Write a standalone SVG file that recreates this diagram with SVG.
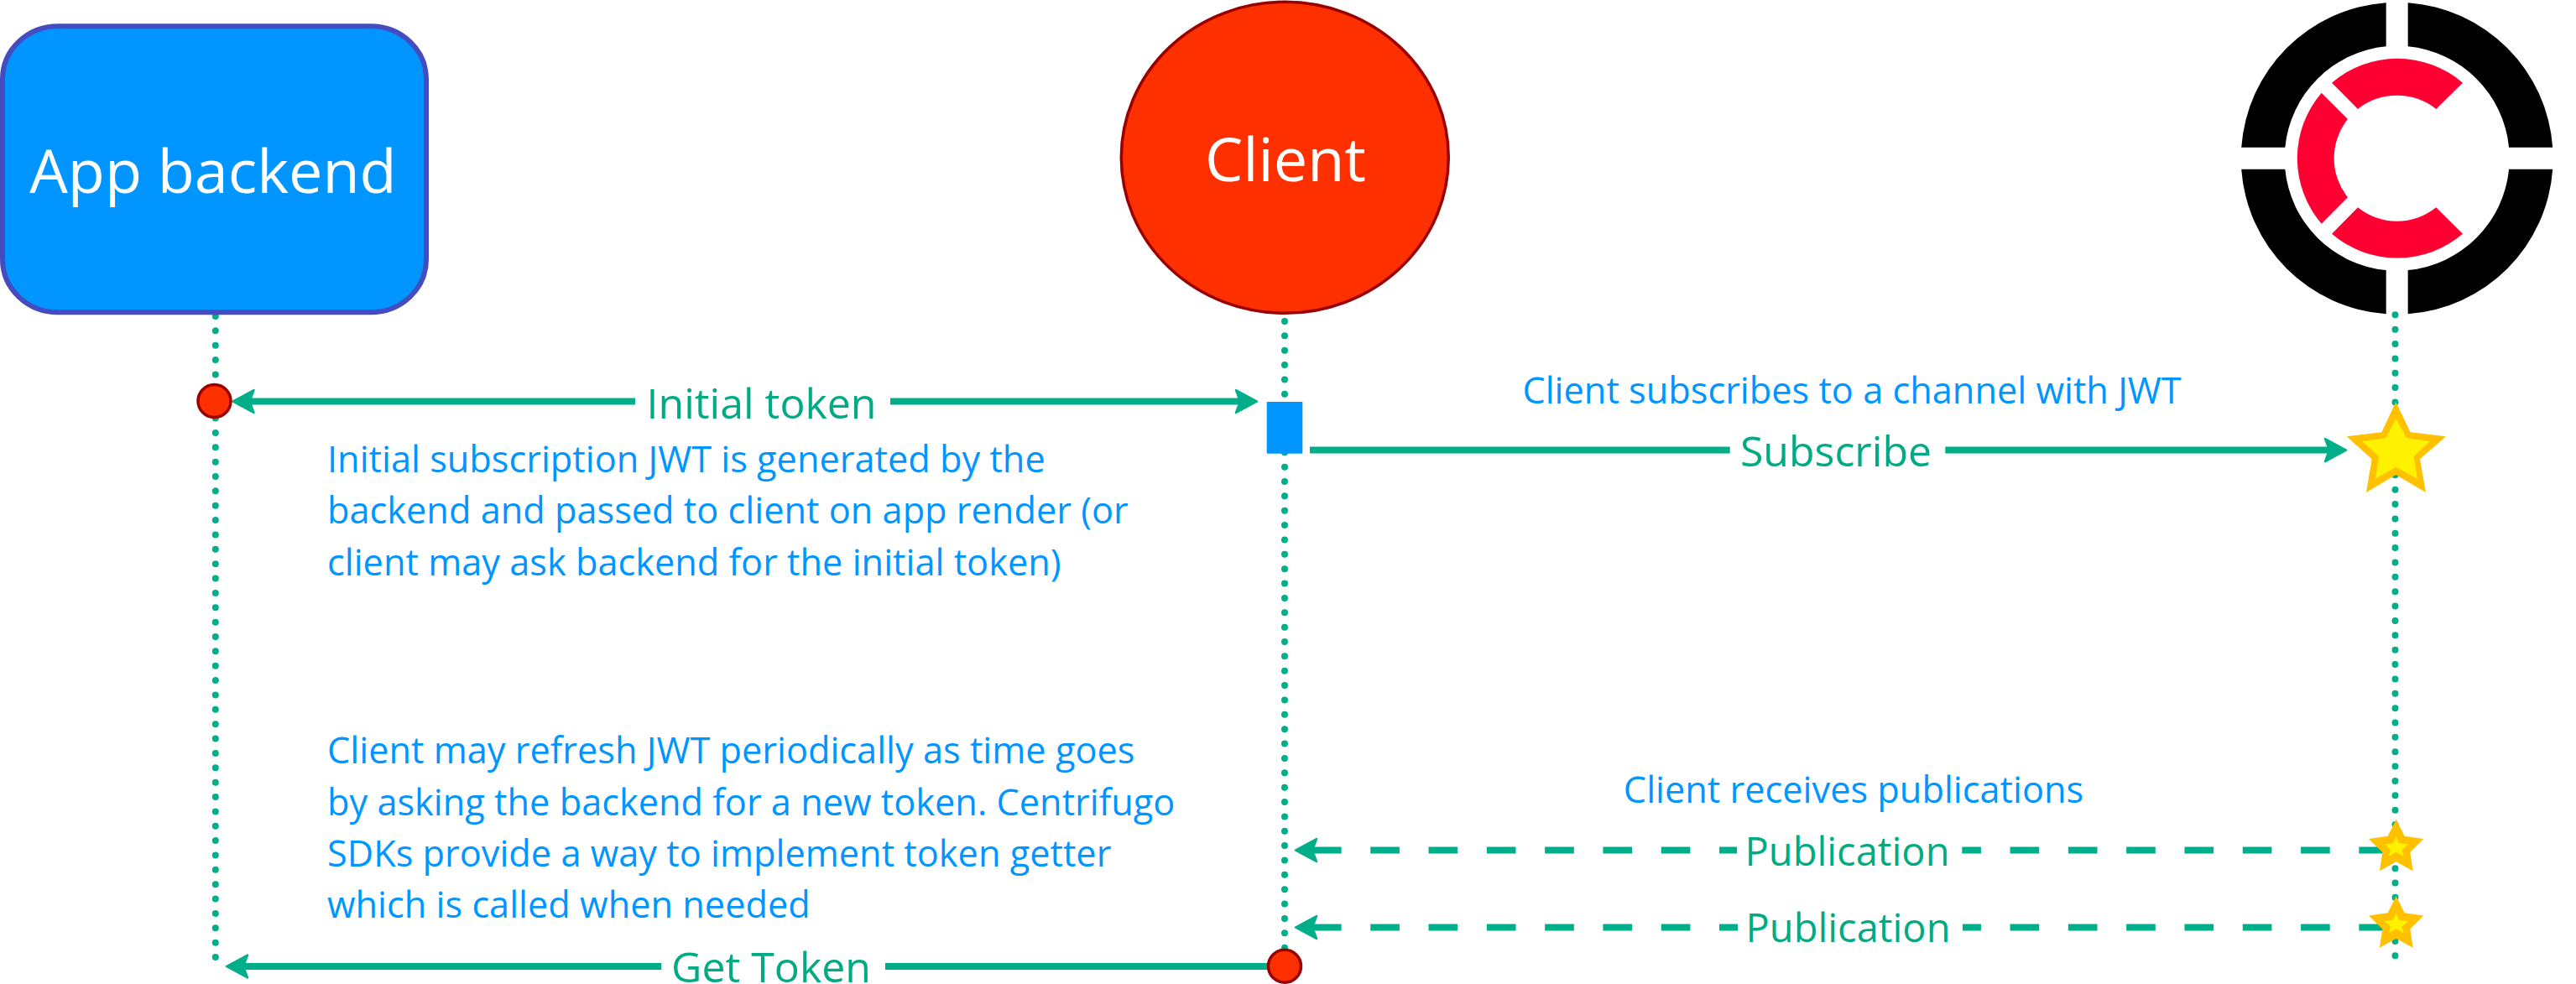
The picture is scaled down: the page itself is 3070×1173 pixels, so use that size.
<svg xmlns="http://www.w3.org/2000/svg" xmlns:xlink="http://www.w3.org/1999/xlink" width="3070" height="1173" viewBox="0 0 3070 1173">
<style>
text{font-family:"Open Sans","Noto Sans","Liberation Sans",sans-serif}
.life{fill:none;stroke:#00af89;stroke-width:8;stroke-linecap:round;stroke-dasharray:0 17.364}
.flow{fill:none;stroke:#00af89;stroke-width:8;marker-end:url(#head)}
.dash{stroke-dasharray:34.65 34.65}
.gap{fill:#fff}
.lab{fill:#00ab84;font-size:50px;text-anchor:middle}
.pub{font-size:47px}
.note{fill:#0095ff;font-size:43.3px}
.mid{text-anchor:middle}
.title{fill:#fff;font-size:72px;text-anchor:middle}
.dot{fill:#ff3000;stroke:#990000;stroke-width:3.5}
.k{fill:#000}.r{fill:#ff0033}
</style>
<defs>
<marker id="head" markerUnits="userSpaceOnUse" markerWidth="44" markerHeight="44" refX="24" refY="22" orient="auto-start-reverse" overflow="visible">
<path d="M33 22L8 8.5L13 22L8 35.500Z" fill="#00af89" stroke="#00af89" stroke-width="2.500" stroke-linejoin="round"/>
</marker>
<g id="small-star">
<polygon points="467,80 497,140 565,150 517,198 527,265 467,232 408,265 418,198 369,150 437,140" fill="#ffc000"/>
<polygon points="467,140 477,165 510,170 487,190 495,213 467,197 440,213 447,190 427,170 457,165" fill="#fff200"/>
</g>
</defs>
<rect width="3070" height="1173" fill="#fff"/>
<g id="connectors">
<path class="life" d="M256.800 377V1142"/>
<path class="life" d="M1531 383V1131"/>
<path class="life" d="M2854.500 375.300V1141"/>
<path class="flow" d="M286.500 478.500H1489" style="marker-start:url(#head)"/>
<path class="flow" d="M1561 536.600H2787"/>
<path class="flow dash" d="M2846 1013.500H1553"/>
<path class="flow dash" d="M2846 1105.500H1553"/>
<path class="flow" d="M1512 1152H279"/>
</g>
<g id="edge-labels">
<rect class="gap" x="757" y="440" width="304" height="75"/>
<text class="lab" x="907.500" y="499">Initial token</text>
<rect class="gap" x="2061.700" y="500" width="256.600" height="75"/>
<text class="lab" x="2188" y="556">Subscribe</text>
<rect class="gap" x="2070" y="980" width="268.300" height="70"/>
<text class="lab pub" x="2201.500" y="1031.700">Publication</text>
<rect class="gap" x="2071" y="1072" width="268" height="70"/>
<text class="lab pub" x="2202.500" y="1123.300">Publication</text>
<rect class="gap" x="788.300" y="1120" width="266.700" height="53"/>
<text class="lab" x="919" y="1171">Get Token</text>
</g>
<g id="app-backend">
<rect x="3" y="31.300" width="505" height="341" rx="66" ry="63" fill="#0095ff" stroke="#444cbf" stroke-width="6"/>
<text class="title" x="254" y="230">App backend</text>
</g>
<g id="client">
<ellipse cx="1531.300" cy="187.800" rx="195" ry="185.500" fill="#ff3000" stroke="#990000" stroke-width="3.500"/>
<text class="title" x="1532" y="216">Client</text>
</g>
<g id="centrifugo-logo">
<path class="k" d="M2843.700 3.200A186 186 0 0 0 2671.200 175.700L2723.300 175.700A134 134 0 0 1 2843.700 55.300Z"/>
<path class="k" d="M2869.700 3.200A186 186 0 0 1 3042.200 175.700L2990.100 175.700A134 134 0 0 0 2869.700 55.300Z"/>
<path class="k" d="M2843.700 374.200A186 186 0 0 1 2671.200 201.700L2723.300 201.700A134 134 0 0 0 2843.700 322.100Z"/>
<path class="k" d="M2869.700 374.200A186 186 0 0 0 3042.200 201.700L2990.100 201.700A134 134 0 0 1 2869.700 322.100Z"/>
<path class="r" d="M2779 98.700A119.700 119.700 0 0 1 2935 98.700L2903.300 130A74.700 74.700 0 0 0 2810 130Z"/>
<path class="r" d="M2766.700 110.700A119.700 119.700 0 0 0 2766.700 266.700L2798 235.300A74.700 74.700 0 0 1 2798 142Z"/>
<path class="r" d="M2779 278.700A119.700 119.700 0 0 0 2935 278.700L2903.300 247.300A74.700 74.700 0 0 1 2810 247.300Z"/>
</g>
<g id="backend-dot"><circle class="dot" cx="255.500" cy="478" r="19.500"/></g>
<g id="client-block"><rect x="1509.700" y="479" width="42.600" height="61.700" fill="#0095ff"/></g>
<g id="client-dot"><circle class="dot" cx="1531" cy="1151.700" r="19.500"/></g>
<g id="subscribe-star" transform="translate(2720 440) scale(.33333)">
<polygon points="406,118 458,226 585,241 492,322 513,441 406,378 300,441 320,322 230,241 355,226" fill="#ffc000"/>
<polygon points="406,177 445,247 528,258 470,312 483,392 406,350 333,392 345,312 285,258 370,247" fill="#fff200"/>
</g>
<g id="publication-star-1" transform="translate(2700 950) scale(.33333)"><use href="#small-star"/></g>
<g id="publication-star-2" transform="translate(2700 1041.500) scale(.33333)"><use href="#small-star"/></g>
<g id="notes">
<text class="note mid" x="2207" y="481">Client subscribes to a channel with JWT</text>
<text class="note mid" x="2209" y="956.700">Client receives publications</text>
<text class="note" x="390" y="562.700">Initial subscription JWT is generated by the</text>
<text class="note" x="390" y="624.300">backend and passed to client on app render (or</text>
<text class="note" x="390" y="686">client may ask backend for the initial token)</text>
<text class="note" x="390" y="910">Client may refresh JWT periodically as time goes</text>
<text class="note" x="390" y="971.500">by asking the backend for a new token. Centrifugo</text>
<text class="note" x="390" y="1033">SDKs provide a way to implement token getter</text>
<text class="note" x="390" y="1094.300">which is called when needed</text>
</g>
</svg>
